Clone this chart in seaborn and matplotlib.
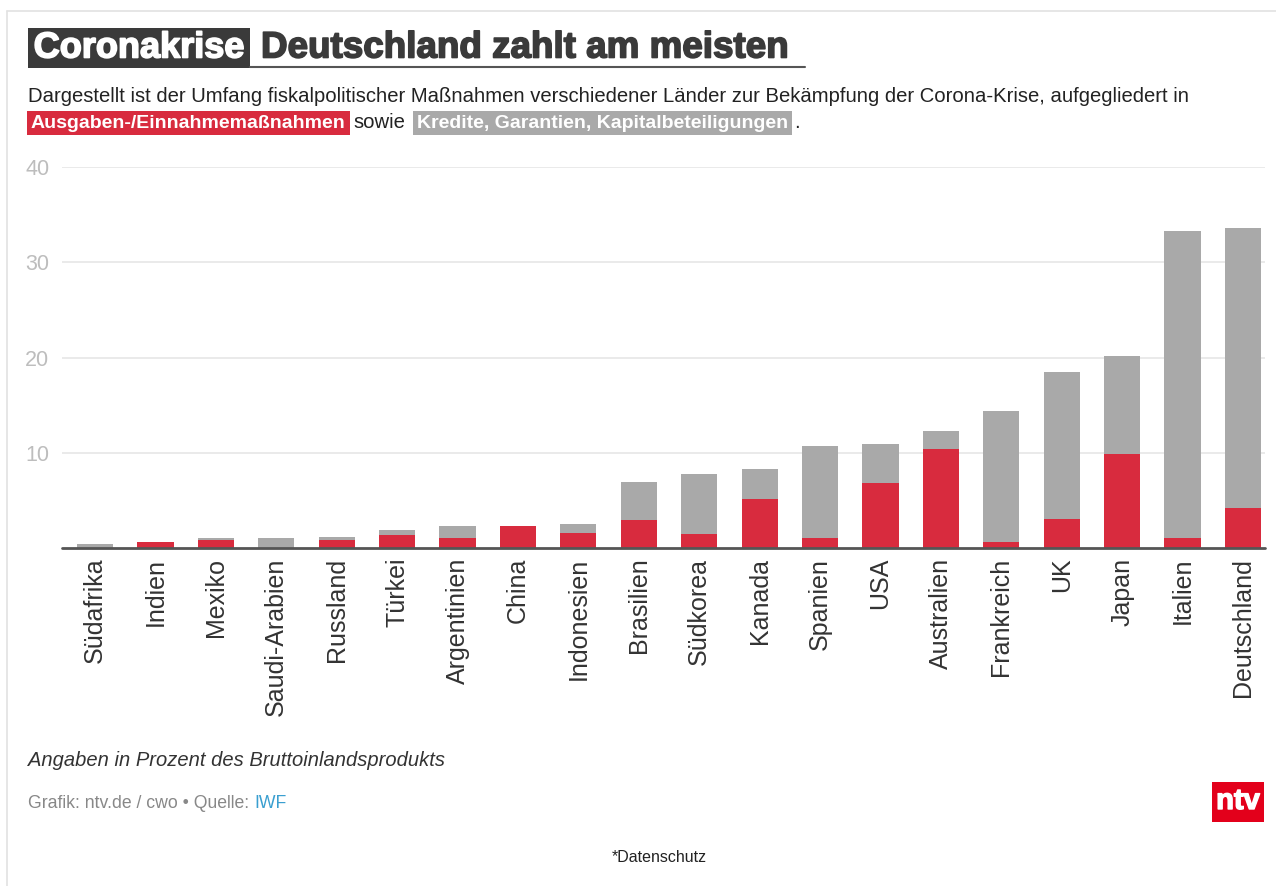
import matplotlib
matplotlib.use("Agg")
import matplotlib.pyplot as plt
import matplotlib.patheffects as pe
import seaborn as sns
import pandas as pd
from matplotlib.patches import Rectangle
from matplotlib.lines import Line2D

countries = ["Südafrika", "Indien", "Mexiko", "Saudi-Arabien", "Russland", "Türkei",
             "Argentinien", "China", "Indonesien", "Brasilien", "Südkorea", "Kanada",
             "Spanien", "USA", "Australien", "Frankreich", "UK", "Japan", "Italien",
             "Deutschland"]
# Ausgaben-/Einnahmemaßnahmen (% BIP)
spending = [0.0, 0.6, 0.8, 0.0, 0.8, 1.4, 1.1, 2.3, 1.6, 2.9, 1.5, 5.1,
            1.1, 6.8, 10.4, 0.6, 3.0, 9.9, 1.1, 4.2]
# Kredite, Garantien, Kapitalbeteiligungen (% BIP)
loans = [0.4, 0.0, 0.3, 1.1, 0.4, 0.5, 1.2, 0.0, 0.9, 4.0, 6.3, 3.2,
         9.6, 4.1, 1.9, 13.8, 15.5, 10.3, 32.2, 29.4]
yticks = [10, 20, 30, 40]

RED = "#d82b3e"
GRAY = "#a9a9a9"
DARK = "#3a3a3a"

W, H = 1276, 886
sns.set_theme(style="white")
plt.rcParams["font.family"] = ["Liberation Sans", "DejaVu Sans"]

fig = plt.figure(figsize=(W / 100, H / 100), dpi=100)
fig.patch.set_facecolor("white")


def fx(x):
    return x / W


def fy(y):
    return 1 - y / H


df = pd.DataFrame({"Land": countries, "Ausgaben": spending, "Kredite": loans})
df["Gesamt"] = df["Ausgaben"] + df["Kredite"]

ax = fig.add_axes([fx(62), fy(548), fx(1265) - fx(62), fy(167) - fy(548)])
sns.barplot(data=df, x="Land", y="Gesamt", color=GRAY, saturation=1, width=0.6,
            linewidth=0, ax=ax, zorder=2)
sns.barplot(data=df, x="Land", y="Ausgaben", color=RED, saturation=1, width=0.6,
            linewidth=0, ax=ax, zorder=3)
ax.set_xlim(-0.546, 19.364)
ax.set_ylim(0, 40)
ax.set_yticks(yticks)
ax.set_yticklabels([str(t) for t in yticks])
ax.set_xlabel("")
ax.set_ylabel("")
for s in ["top", "right", "left", "bottom"]:
    ax.spines[s].set_visible(False)
ax.grid(axis="y", color="#e6e6e6", linewidth=1.2, zorder=0)
ax.grid(axis="x", visible=False)
ax.set_axisbelow(True)
ax.axhline(0, color="#555555", linewidth=2, zorder=4, clip_on=False)
ax.tick_params(axis="y", length=0, pad=9, labelsize=15.5, labelcolor="#bdbdbd")
ax.tick_params(axis="x", length=0, pad=7, labelsize=18, labelcolor="#333333")
for lbl in ax.get_xticklabels():
    lbl.set_rotation(90)
    lbl.set_va("top")
    lbl.set_ha("center")

# frame
fig.add_artist(Line2D([fx(7), fx(7)], [fy(11), 0], color="#e2e2e2", lw=1.2))
fig.add_artist(Line2D([fx(7), 1], [fy(11), fy(11)], color="#e2e2e2", lw=1.2))

# title
fig.add_artist(Rectangle((fx(28), fy(68)), fx(250) - fx(28), fy(28) - fy(68),
                         facecolor=DARK, edgecolor="none"))
fig.text(fx(139), fy(48), "Coronakrise", color="white", fontsize=26,
         fontweight="bold", ha="center", va="center",
         path_effects=[pe.withStroke(linewidth=1.2, foreground="white")])
fig.text(fx(261), fy(48), "Deutschland zahlt am meisten", color=DARK, fontsize=26.5,
         fontweight="bold", ha="left", va="center",
         path_effects=[pe.withStroke(linewidth=1.2, foreground=DARK)])
fig.add_artist(Line2D([fx(250), fx(805)], [fy(67), fy(67)], color="#555555", lw=1.5))

# subtitle
fig.text(fx(28), fy(97),
         "Dargestellt ist der Umfang fiskalpolitischer Maßnahmen verschiedener Länder "
         "zur Bekämpfung der Corona-Krise, aufgegliedert in",
         color="#222222", fontsize=14.6, ha="left", va="center")

renderer = fig.canvas.get_renderer()
y2 = fy(123)
t1 = fig.text(fx(31), y2, "Ausgaben-/Einnahmemaßnahmen", color="white", fontsize=14,
              fontweight="bold", ha="left", va="center",
              bbox=dict(boxstyle="square,pad=0.2", facecolor=RED, edgecolor="none"))
bb = t1.get_window_extent(renderer)
x = bb.x1 / W + fx(8)
t2 = fig.text(x, y2, "sowie", color="#222222", fontsize=14.6, ha="left", va="center")
bb = t2.get_window_extent(renderer)
x = bb.x1 / W + fx(11)
t3 = fig.text(x, y2, "Kredite, Garantien, Kapitalbeteiligungen", color="white",
              fontsize=14, fontweight="bold", ha="left", va="center",
              bbox=dict(boxstyle="square,pad=0.2", facecolor=GRAY, edgecolor="none"))
bb = t3.get_window_extent(renderer)
fig.text(bb.x1 / W + fx(6), y2, ".", color="#222222", fontsize=14.6, ha="left", va="center")

# footer
fig.text(fx(28), fy(760), "Angaben in Prozent des Bruttoinlandsprodukts",
         color="#333333", fontsize=14.5, fontstyle="italic", ha="left", va="center")
g1 = fig.text(fx(28), fy(803), "Grafik: ntv.de / cwo • Quelle: ", color="#888888",
              fontsize=12.7, ha="left", va="center")
bb = g1.get_window_extent(renderer)
fig.text(bb.x1 / W, fy(803), "IWF", color="#3a9fd0", fontsize=12.7, ha="left", va="center")

fig.add_artist(Rectangle((fx(1212), fy(822)), fx(1264) - fx(1212), fy(782) - fy(822),
                         facecolor="#e3001b", edgecolor="none"))
fig.text(fx(1238), fy(801), "ntv", color="white", fontsize=21, fontweight="bold",
         ha="center", va="center",
         path_effects=[pe.withStroke(linewidth=1.0, foreground="white")])

fig.text(fx(659), fy(858), "*Datenschutz", color="#222222", fontsize=11.5,
         ha="center", va="center")

fig.savefig("out.png", dpi=100, facecolor="white")
